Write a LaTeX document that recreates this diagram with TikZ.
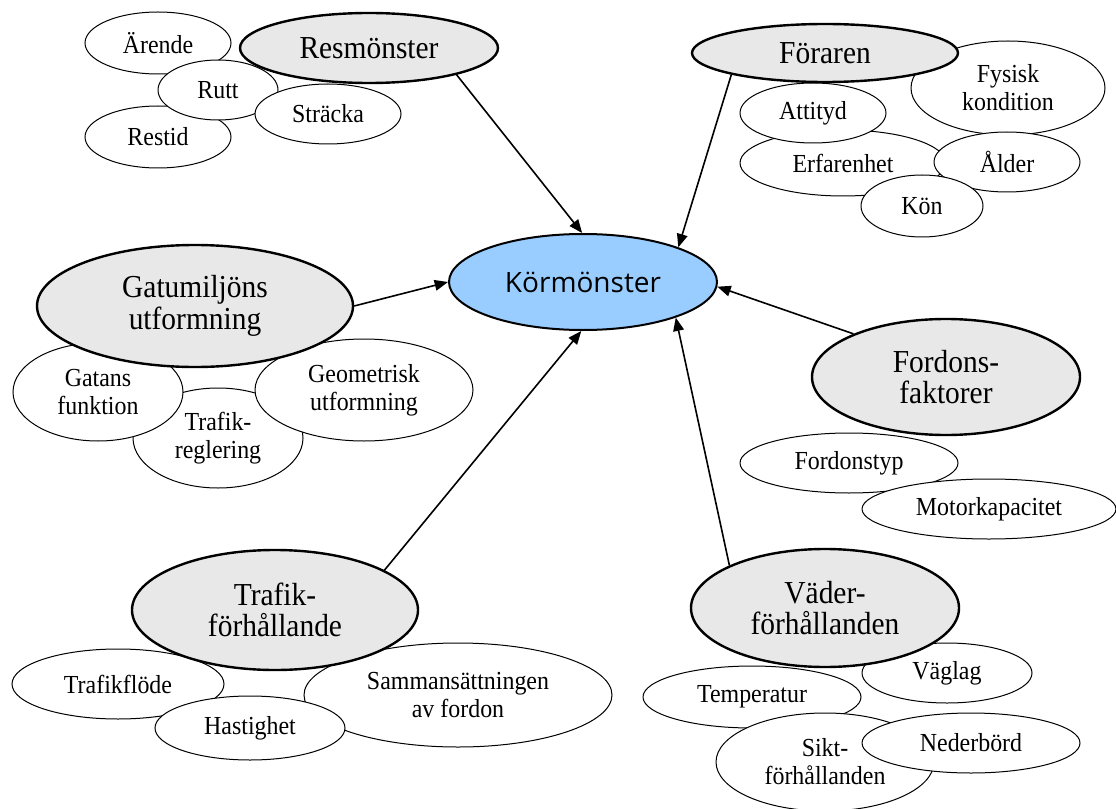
\documentclass[tikz,border=0pt]{standalone}
\usepackage{fontspec}
\setmainfont{Liberation Serif}[FakeStretch=0.92]
\newfontfamily\korfont{Open Sans}
\usetikzlibrary{shapes.geometric,arrows.meta}
\definecolor{topicgray}{HTML}{E8E8E8}
\definecolor{hubblue}{HTML}{99CCFF}
\tikzset{
  leaf/.style 2 args={ellipse, draw, fill=white, line width=0.75pt,
    minimum width={#1*1.5pt}, minimum height={#2*1.5pt}, inner sep=0pt,
    align=center, font=\fontsize{19.5}{21}\selectfont},
  topic/.style 2 args={ellipse, draw, fill=topicgray, line width=1.8pt,
    minimum width={#1*1.5pt}, minimum height={#2*1.5pt}, inner sep=0pt,
    align=center, font=\fontsize{24}{23.5}\selectfont},
  hub/.style 2 args={ellipse, draw, fill=hubblue, line width=1.5pt,
    minimum width={#1*1.5pt}, minimum height={#2*1.5pt}, inner sep=0pt,
    align=center, font=\korfont\fontsize{21}{24}\selectfont},
  link/.style={-{Triangle[length=10pt,width=8pt]}, line width=1.2pt}
}
\begin{document}
\begin{tikzpicture}[x=0.75pt,y=-0.75pt]
\useasboundingbox (0,0) rectangle (1116,809);

% --- Resmönster group
\node[leaf={73}{31}] (arende) at (158,43) {Ärende};
\node[leaf={73}{31}] (restid) at (158,137) {Restid};
\node[leaf={60}{30}] (rutt) at (218,90) {Rutt};
\node[leaf={73}{30}] (stracka) at (328,114) {Sträcka};
\node[topic={129}{35}] (res) at (369,48) {Resmönster};

% --- Föraren group
\node[leaf={97}{47}] (fysisk) at (1008,88) {Fysisk\\kondition};
\node[leaf={103}{33}] (erf) at (843,163) {Erfarenhet};
\node[leaf={73}{30}] (attityd) at (813,113) {Attityd};
\node[leaf={73}{30}] (alder) at (1007,162) {Ålder};
\node[leaf={61}{31}] (kon) at (922,206) {Kön};
\node[topic={133}{29}] (forare) at (825,53) {Föraren};

% --- Gatumiljö group
\node[leaf={85}{50}] (reglering) at (218,438) {Trafik-\\reglering};
\node[leaf={85}{49}] (gatans) at (98,392) {Gatans\\funktion};
\node[leaf={109}{51}] (geom) at (364,390) {Geometrisk\\utformning};
\node[topic={158}{61}] (gata) at (195,306) {Gatumiljöns\\utformning};

% --- Fordon group
\node[leaf={109}{30}] (ftyp) at (849,463) {Fordonstyp};
\node[leaf={127}{30}] (motor) at (989,509) {Motorkapacitet};
\node[topic={134}{58}] (fordon) at (946,377) {Fordons-\\faktorer};

% --- Trafik group
\node[leaf={106}{35}] (flode) at (118,684) {Trafikflöde};
\node[leaf={154}{52}] (samman) at (458,695) {Sammansättningen\\av fordon};
\node[leaf={95}{32}] (hast) at (250,728) {Hastighet};
\node[topic={143}{60}] (trafik) at (275,610) {Trafik-\\förhållande};

% --- Väder group
\node[leaf={109}{31}] (temp) at (752,697) {Temperatur};
\node[leaf={109}{49}] (sikt) at (825,762) {Sikt-\\förhållanden};
\node[leaf={109}{30}] (neder) at (971,743) {Nederbörd};
\node[leaf={85}{30}] (vaglag) at (947,673) {Väglag};
\node[topic={134}{59}] (vader) at (825,608) {Väder-\\förhållanden};

% --- central node
\node[hub={134}{48}] (kor) at (583,282) {Körmönster};

% --- influences
\draw[link] (res.-17) -- (kor.91);
\draw[link] (forare.193) -- (kor.20);
\draw[link] (gata.0) -- (kor.180);
\draw[link] (fordon.155) -- (kor.-2);
\draw[link] (trafik.20) -- (kor.-92);
\draw[link] (vader.156) -- (kor.-21);
\end{tikzpicture}
\end{document}
